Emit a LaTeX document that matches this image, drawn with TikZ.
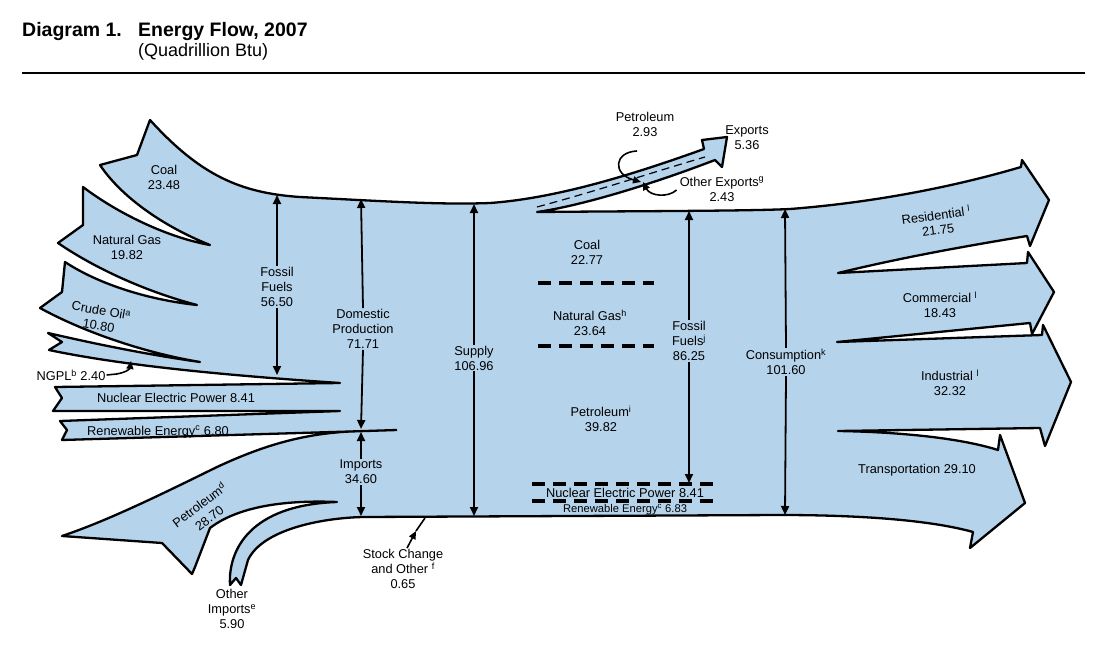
\documentclass[tikz,border=0pt]{standalone}
\usepackage{fontspec}
\setmainfont{Liberation Sans}
\usetikzlibrary{arrows.meta}
\definecolor{flowblue}{RGB}{181,211,235}
\begin{document}
\begin{tikzpicture}[x=1pt,y=-1pt,
  lbl/.style={font=\fontsize{12.8}{15}\selectfont, align=center, inner sep=1pt},
  small/.style={font=\fontsize{11.2}{13}\selectfont, inner sep=1pt},
  flowline/.style={line width=2.3pt, line join=round},
  dim/.style={line width=1.8pt, -{Triangle[length=9pt,width=8pt]}},
  hook/.style={line width=1.6pt, -{Triangle[length=8pt,width=7pt]}},
  bigdash/.style={line width=4pt, dash pattern=on 13pt off 8pt},
  thindash/.style={line width=1.2pt, dash pattern=on 8pt off 5pt}]
\useasboundingbox (0,0) rectangle (1100,650);
% title
\node[anchor=base west, font=\fontsize{19.5}{22}\bfseries\selectfont, inner sep=0] (t1) at (22,37) {Diagram 1.};
\node[anchor=base west, font=\fontsize{19.5}{22}\bfseries\selectfont, inner sep=0] (t2) at (138,37) {Energy Flow, 2007};
\node[anchor=base west, font=\fontsize{18}{20}\selectfont, inner sep=0] (t3) at (138,57) {(Quadrillion Btu)};
\draw[line width=2pt] (22,73) -- (1085,73);
% main flow shape
\filldraw[fill=flowblue, flowline]
 (150,120) .. controls (200,175) and (240,193) .. (300,197)
 .. controls (380,201) and (440,205) .. (490,203)
 .. controls (560,198) and (640,172) .. (704,149)
 -- (702,140) -- (727,137) -- (722,167) -- (715,160)
 .. controls (650,185) and (580,206) .. (537,212)
 .. controls (650,211) and (750,211) .. (790,209)
 .. controls (880,202) and (960,185) .. (1021,167)
 -- (1022,160) -- (1049,200) -- (1030,246) -- (1027,236)
 .. controls (960,247) and (900,258) .. (838,273)
 -- (1027,263) -- (1028,252) -- (1054,292) -- (1032,334) -- (1030,323)
 -- (837,342) -- (1042,335) -- (1043,325) -- (1071,382) -- (1045,446) -- (1040,428)
 -- (838,431) .. controls (900,432) and (960,438) .. (998,450)
 -- (1000,435) -- (1025,503) -- (970,548) -- (973,532)
 .. controls (930,520) and (860,515) .. (780,515)
 -- (363,517) .. controls (320,518) and (262,530) .. (248,560)
 -- (241,585) -- (236,578) -- (230,585)
 .. controls (228,550) and (250,505) .. (337,502)
 .. controls (290,500) and (240,505) .. (210,528)
 -- (195,567) -- (192,574) -- (162,543) -- (62,536)
 .. controls (110,520) and (170,490) .. (217,467)
 .. controls (260,447) and (300,434) .. (350,431.5)
 -- (62,440) -- (67,430) -- (60,421) -- (340,411)
 -- (53,411) -- (62,398) -- (55,387) -- (340,383)
 .. controls (220,375) and (120,365) .. (49,350)
 -- (62,342) -- (48,333) .. controls (100,345) and (150,355) .. (200,362)
 .. controls (140,352) and (80,330) .. (40,308)
 -- (62,292) -- (65,262) .. controls (100,285) and (150,300) .. (197,305)
 .. controls (140,290) and (90,265) .. (58,243)
 -- (83,225) -- (83,187) .. controls (120,215) and (170,238) .. (210,245)
 .. controls (160,225) and (120,195) .. (100,165)
 -- (137,155) -- cycle;
\draw[flowline] (350,431.5) -- (397,430);
\draw[thindash] (537,207) .. controls (600,190) and (660,170) .. (705,157);
% dashed separators
\draw[bigdash] (538,283) -- (654,283);
\draw[bigdash] (538,346) -- (654,346);
\draw[bigdash] (532,484) -- (720,484);
\draw[bigdash] (532,501) -- (720,501);
% labels
\node[lbl] (coal) at (164,177) {Coal\\23.48};
\node[lbl] (ng) at (127,247) {Natural Gas\\19.82};
\node[lbl, rotate=-10] (crude) at (100,318) {Crude Oil\textsuperscript{a}\\10.80};
\node[lbl] (ngpl) at (71,375) {NGPL\textsuperscript{b} 2.40};
\node[lbl] (nuc) at (176,398) {Nuclear Electric Power 8.41};
\node[lbl] (ren) at (158,432) {Renewable Energy\textsuperscript{c} 6.80};
\node[lbl, rotate=37, font=\fontsize{12.8}{16}\selectfont] (petd) at (204,511) {Petroleum\textsuperscript{d}\\28.70};
\node[lbl] (oimp) at (232,609) {Other\\Imports\textsuperscript{e}\\5.90};
\node[lbl] (stock) at (403,569) {Stock Change\\and Other \textsuperscript{f}\\0.65};
\node[lbl] (ff1) at (277,287) {Fossil\\Fuels\\56.50};
\node[lbl] (dom) at (363,329) {Domestic\\Production\\71.71};
\node[lbl] (imp) at (361,472) {Imports\\34.60};
\node[lbl] (sup) at (474,358) {Supply\\106.96};
\node[lbl] (coal2) at (587,252) {Coal\\22.77};
\node[lbl] (ng2) at (590,323) {Natural Gas\textsuperscript{h}\\23.64};
\node[lbl] (pet2) at (601,419) {Petroleum\textsuperscript{i}\\39.82};
\node[lbl] (ff2) at (689,341) {Fossil\\Fuels\textsuperscript{j}\\86.25};
\node[lbl] (nuc2) at (625,493) {Nuclear Electric Power 8.41};
\node[small] (ren2) at (625,510) {Renewable Energy\textsuperscript{c} 6.83};
\node[lbl] (cons) at (786,362) {Consumption\textsuperscript{k}\\101.60};
\node[lbl, rotate=8] (res) at (937,222) {Residential \textsuperscript{l}\\21.75};
\node[lbl] (com) at (940,305) {Commercial \textsuperscript{l}\\18.43};
\node[lbl] (ind) at (950,383) {Industrial \textsuperscript{l}\\32.32};
\node[lbl] (tra) at (917,470) {Transportation 29.10};
\node[lbl] (exp) at (747,138) {Exports\\5.36};
\node[lbl] (pexp) at (645,124) {Petroleum\\2.93};
\node[lbl] (oexp) at (722,189) {Other Exports\textsuperscript{g}\\2.43};
% dimension arrow end points
\coordinate (ff1t) at (277,195); \coordinate (ff1b) at (277,375);
\coordinate (domt) at (361,199); \coordinate (domb) at (361,429);
\coordinate (impt) at (361,432); \coordinate (impb) at (361,516);
\coordinate (supt) at (474,204); \coordinate (supb) at (474,516);
\coordinate (ff2t) at (689,211); \coordinate (ff2b) at (689,483);
\coordinate (const) at (785,209); \coordinate (consb) at (785,515);
\draw[dim] (ff1.north) -- (ff1t); \draw[dim] (ff1.south) -- (ff1b);
\draw[dim] (dom.north) -- (domt); \draw[dim] (dom.south) -- (domb);
\draw[dim] (imp.north) -- (impt); \draw[dim] (imp.south) -- (impb);
\draw[dim] (sup.north) -- (supt); \draw[dim] (sup.south) -- (supb);
\draw[dim] (ff2.north) -- (ff2t); \draw[dim] (ff2.south) -- (ff2b);
\draw[dim] (cons.north) -- (const); \draw[dim] (cons.south) -- (consb);
% hooks
\coordinate (stockm) at (416,531); \coordinate (stocke) at (425,518);
\draw[hook] (stock.north) ++(4,0) -- (stockm);
\draw[line width=1.6pt] (stockm) -- (stocke);
\coordinate (ngplt) at (131,361);
\draw[hook] (ngpl.east) -- ++(10,-1) .. controls (128,372) and (130,368) .. (ngplt);
\coordinate (pexps) at (637,151);
\coordinate (pexpt) at (641,182);
\draw[hook] (pexps) .. controls (614,152) and (612,174) .. (pexpt);
\coordinate (oexpt) at (643,182);
\draw[hook] (oexp.west) ++(-2,1) .. controls (668,198) and (650,196) .. (oexpt);
\end{tikzpicture}
\end{document}
